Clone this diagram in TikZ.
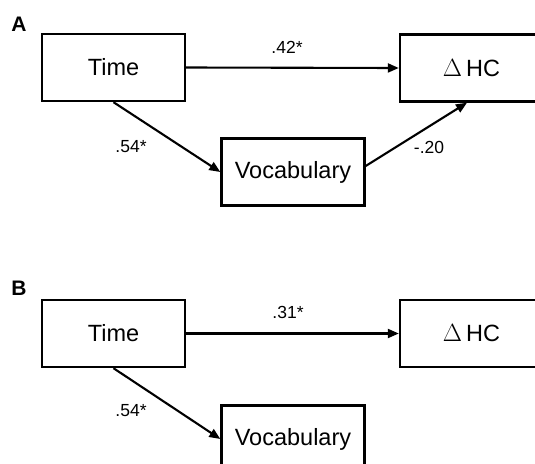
\documentclass[tikz,border=0pt]{standalone}
\usepackage{fontspec}
\setmainfont{Liberation Sans}
\usetikzlibrary{arrows.meta}
\tikzset{
  varbox/.style={draw=black, line width=2.4pt, minimum width=143pt, minimum height=67pt, inner sep=0pt, font=\fontsize{23.5}{27}\selectfont},
  path/.style={line width=2.1pt, -{Triangle[length=11pt,width=9pt]}},
  coef/.style={font=\fontsize{17.5}{20}\selectfont, inner sep=0pt},
  panel/.style={font=\bfseries\fontsize{21}{24}\selectfont, inner sep=0pt}
}
\begin{document}
\begin{tikzpicture}[x=1pt,y=-1pt]
\fill[white] (0,0) rectangle (535,463);
\useasboundingbox (0,0) rectangle (535,463);
\clip (0,0) rectangle (535,463);
% Panel A
\node[panel] (labA) at (19,24) {A};
\node[varbox] (timeA) at (113.5,67.5) {Time};
\node[varbox] (hcA) at (471.5,68) {$\Delta$\,HC};
\node[varbox] (vocA) at (293,172) {Vocabulary};
\draw[path] (timeA.east) -- (hcA.west);
\draw[path] (timeA.south) -- (vocA.west);
\draw[path] ([yshift=6pt]vocA.east) -- ([xshift=-4.5pt]hcA.south);
\node[coef] (cA1) at (287,47) {.42*};
\node[coef] (cA2) at (131,147) {.54*};
\node[coef] (cA3) at (429,147) {-.20};
% Panel B
\node[panel] (labB) at (19,288) {B};
\node[varbox] (timeB) at (113.5,333.5) {Time};
\node[varbox] (hcB) at (471.5,333.5) {$\Delta$\,HC};
\node[varbox] (vocB) at (293,439) {Vocabulary};
\draw[path] (timeB.east) -- (hcB.west);
\draw[path] (timeB.south) -- (vocB.west);
\node[coef] (cB1) at (288,312) {.31*};
\node[coef] (cB2) at (131,411) {.54*};
\end{tikzpicture}
\end{document}
